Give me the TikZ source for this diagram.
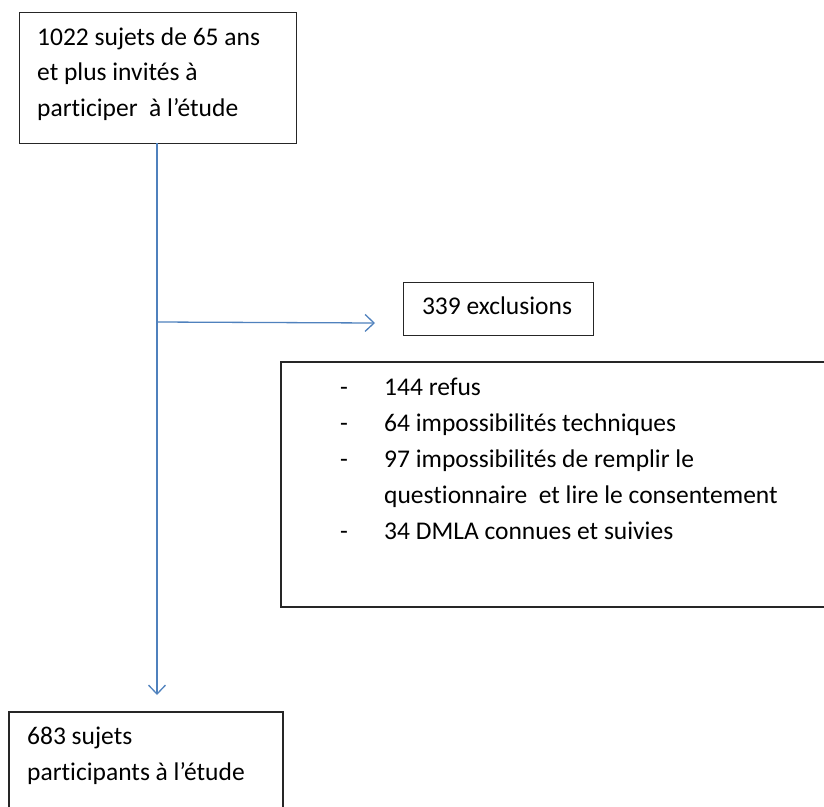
\documentclass[tikz,border=0pt]{standalone}
\usepackage{fontspec}
\setmainfont{Carlito}[Ligatures=NoCommon]
\usetikzlibrary{arrows.meta}
\definecolor{flowblue}{HTML}{4F81BD}
\tikzset{
  box/.style={draw=black!85, line width=1.3pt, anchor=north west, inner sep=0pt},
  txt/.style={anchor=base west, inner sep=0pt, align=left, font=\fontsize{25.5}{35.5}\selectfont},
  flow/.style={draw=flowblue, line width=1.3pt, -{Straight Barb[length=9pt,width=17pt,line width=1.3pt]}}
}
\begin{document}
\begin{tikzpicture}[x=1pt,y=-1pt]
\useasboundingbox (0,0) rectangle (824,806);
% top box
\node[box, minimum width=277pt, minimum height=131pt] (top) at (19,12) {};
\node[txt] (toptxt) at (37,116) {1022 sujets de 65 ans\\et plus invités à\\participer \ à l’étude};
% exclusions box
\node[box, minimum width=190pt, minimum height=53pt] (excl) at (403,282) {};
\node[anchor=base, inner sep=0pt, font=\fontsize{25.5}{35.5}\selectfont] (excltxt) at (497,314) {339 exclusions};
% list box (open on the right, beyond the page)
\coordinate (lbr) at (830,362);
\coordinate (lbl) at (281,362);
\coordinate (lbbl) at (281,607);
\coordinate (lbbr) at (830,607);
\draw[black!85, line width=1.3pt] (lbr) -- (lbl) -- (lbbl) -- (lbbr);
\foreach \y/\t [count=\i] in {395/144 refus, 431/64 impossibilités techniques, 467/97 impossibilités de remplir le, 539/34 DMLA connues et suivies}{
  \node[txt] (li\i) at (384,\y) {\t};
  \node[txt] (dash\i) at (340,\y) {-};
}
\node[txt] (li5) at (384,503) {questionnaire \ et lire le consentement};
% bottom box (open at the bottom, beyond the page)
\coordinate (bbl) at (9,815);
\coordinate (btl) at (9,712);
\coordinate (btr) at (283,712);
\coordinate (bbr) at (283,815);
\draw[black!85, line width=1.3pt] (bbl) -- (btl) -- (btr) -- (bbr);
\node[txt] (bottxt) at (27,780) {683 sujets\\participants à l’étude};
% connectors
\coordinate (start) at (157,143);
\coordinate (branch) at (157,322);
\coordinate (endv) at (157,695);
\coordinate (endh) at (375,323);
\draw[flow] (start) -- (endv);
\draw[flow] (branch) -- (endh);
\end{tikzpicture}
\end{document}
